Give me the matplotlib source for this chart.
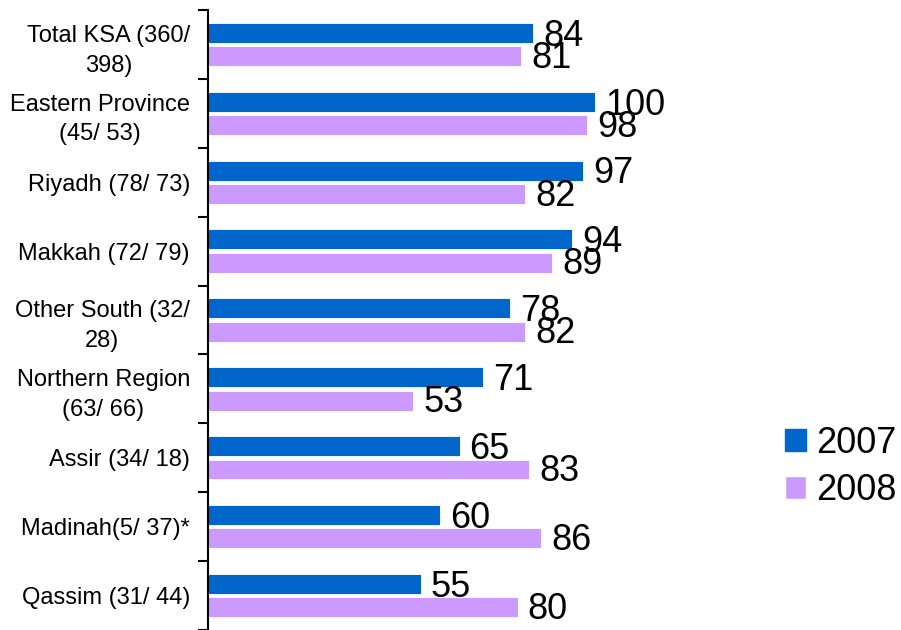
import numpy as np
import matplotlib
matplotlib.use("Agg")
import matplotlib.pyplot as plt
from matplotlib.patches import Patch

plt.rcParams['font.family'] = ['Liberation Sans', 'DejaVu Sans']

regions = ["Total KSA (360/\n398)", "Eastern Province\n(45/ 53)", "Riyadh (78/ 73)",
           "Makkah (72/ 79)", "Other South (32/\n28)", "Northern Region\n(63/ 66)",
           "Assir (34/ 18)", "Madinah(5/ 37)*", "Qassim (31/ 44)"]
values_2007 = [84, 100, 97, 94, 78, 71, 65, 60, 55]
values_2008 = [81, 98, 82, 89, 82, 53, 83, 86, 80]

blue = '#0066CC'
lavender = '#CC99FF'

fig = plt.figure(figsize=(9.01, 6.3), dpi=100)
ax = fig.add_axes([208 / 901, 0.0, (700 - 208) / 901, 1 - 10 / 630])

y = np.arange(len(regions))
h = 0.29
off = 0.17
ax.barh(y - off, values_2007, height=h, color=blue, edgecolor='white', linewidth=0.6)
ax.barh(y + off, values_2008, height=h, color=lavender, edgecolor='white', linewidth=0.6)

# value labels, slightly overlapping like the original
for yi, v in zip(y, values_2007):
    ax.text(v + 2.6, yi - off + 0.05, str(v), fontsize=26, va='center', ha='left')
for yi, v in zip(y, values_2008):
    ax.text(v + 2.6, yi + off + 0.03, str(v), fontsize=26, va='center', ha='left')

ax.set_xlim(0, (700 - 208) / 3.87)
ax.set_ylim(len(regions) - 0.5, -0.5)

ax.set_yticks(y)
ax.set_yticklabels(regions, fontsize=17)
for lbl in ax.get_yticklabels():
    lbl.set_multialignment('center')
    lbl.set_linespacing(1.45)
ax.tick_params(axis='y', which='major', length=0, pad=13)
ax.set_yticks(np.arange(len(regions) + 1) - 0.5, minor=True)
ax.tick_params(axis='y', which='minor', length=7, width=1.5, direction='out')
ax.set_xticks([])

for s in ['top', 'right', 'bottom']:
    ax.spines[s].set_visible(False)
ax.spines['left'].set_linewidth(1.5)

handles = [Patch(facecolor=blue, edgecolor=blue, label='2007'),
           Patch(facecolor=lavender, edgecolor='white', label='2008')]
fig.legend(handles=handles, loc='center left', bbox_to_anchor=(785 / 901, 1 - 467 / 630),
           frameon=False, fontsize=26, handlelength=0.57, handleheight=0.57,
           handletextpad=0.3, labelspacing=0.35, borderpad=0, borderaxespad=0)

fig.savefig('out.png', dpi=100)
